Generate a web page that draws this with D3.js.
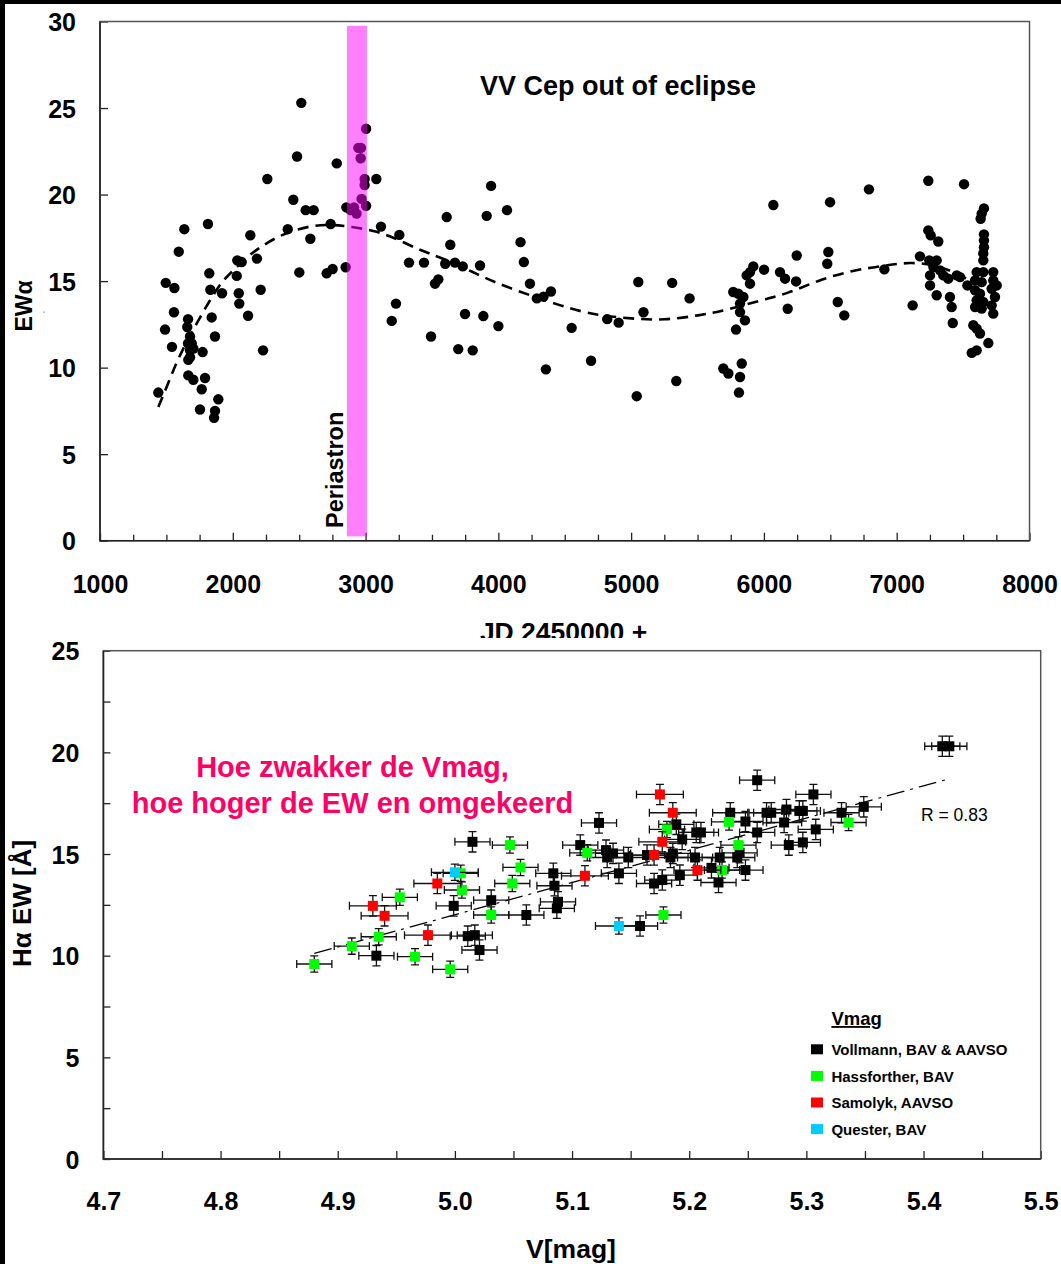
<!DOCTYPE html>
<html>
<head>
<meta charset="utf-8">
<script src="https://cdn.jsdelivr.net/npm/d3@7"></script>
<style>
  body { margin: 0; background: #fff; }
  svg { display: block; font-family: "Liberation Sans", Arial, sans-serif; }
</style>
</head>
<body>
<svg id="chart" width="1061" height="1264"></svg>
<script>
// ---- top panel: EW(H-alpha) vs time, VV Cep out of eclipse
var jd = [
  1439,1490,1495,1542,1557,1560,1593,1635,1657,1663, 1663,1665,1665,1678,1678,1678,1691,1703,1703,1753,
  1766,1773,1791,1813,1823,1831,1841,1859,1866,1866, 1891,1919,2030,2034,2045,2049,2067,2115,2132,2182,
  2210,2228,2260,
  2414,2456,2484,2501,2516,2549,2584,2609,2707,2737,2752,2783,2850,2855,
  2887,2913,2932,2945,2965,2963,2970,2993,2993,3004,3004,
  3081,3116,3197,3229,3254,3327,3440,3493,3523,3548, 3600,3611,3638,3673,3698,3732,3749,3807,3862,3887,
  3912,3945,4000,4065,4167,4192,4238,4290,4340,4358, 4396,4552,4698,4820,4906,5042,5054,5093,5309,5340,
  5440,
  5694,5732,5769,5790,5807,5812,5820,5820,5820,5833, 5845,5857,5870,5895,5895,5920,6001,6071,6121,6159,
  6179,6242,6247,6477,6485,6498,6556,6605,6791,6907,
  7120,7175,7238,7238,7245,7251,7251,7256,7276,7301, 7301,7313,7326,7351,7388,7401,7414,7422,7452,7477,
  7507,7532,
  7565,7577,7590,7590,7590,7602,7602,7602,7602,7627, 7627,7632,7640,7640,7640,7652,7652,7657,7657,7657,
  7657,7652,7652,7690,7715,7715,7727,7727,7727,7740, 7753
]
var ew = [
  8.56,12.2,14.9,11.2,13.2,14.6,16.7,18.0,12.35,12.8, 11.4,10.45,9.55,11.8,11.0,10.6,11.4,11.1,9.3,7.58,
  8.75,10.9,9.4,18.3,15.45,14.5,12.9,7.1,7.5,11.8, 8.17,14.3,15.3,16.2,14.3,13.7,16.1,13.0,17.65,16.3,
  14.5,11.0,20.9,
  18.0,19.7,22.2,15.5,25.3,19.1,17.45,19.1,15.45,18.3,15.7,21.8,15.8,19.26,
  19.1,19.26,18.9,22.7,22.7,22.1,19.75,20.9,20.55,19.35,23.8,
  20.9,18.15,12.7,13.7,17.67,16.07,16.07,11.8,14.85,15.1, 16.0,18.7,17.1,16.07,11.07,15.85,13.1,11.0,15.9,12.98,
  18.77,20.5,12.4,19.1,17.25,16.1,14.85,14.0,14.1,9.9, 14.4,12.3,10.4,12.8,12.6,8.35,14.95,13.2,14.9,9.23,
  14.0,
  9.95,9.66,14.37,12.2,14.27,8.56,9.46,13.7,13.21,10.24, 14.08,12.73,15.33,15.52,14.85,15.85,15.66,19.4,15.52,15.14,
  13.4,14.98,16.48,16.0,16.68,19.56,13.79,13.02,20.3,15.68,
  13.6,16.43,17.93,20.8,16.2,15.33,14.75,17.64,15.81,16.2, 14.18,17.29,15.62,15.33,15.14,14.08,13.5,12.58,15.33,15.23,
  20.6,14.75,
  10.85,12.45,15.04,14.47,13.5,15.52,12.25,13.89,11.0,11.97, 14.27,18.6,18.9,14.94,13.41,15.52,13.79,19.2,17.7,17.35,
  16.96,16.6,16.2,11.42,14.56,13.6,15.52,15.04,13.12,14.08, 14.75
]
// dashed fit curve
var fitJd = [1439,1514,1590,1740,1828,1916,1979,2105,2205,2331,2456,2606,2757,2908,3058,3209,3410,3561,3811,3988,
  4509,4748,5003,5250,5513,5717,5973,6177,6406,6661,6916,7095,7300,7452,7527,7620]
var fitEw = [7.73,9.08,10.6,12.73,13.9,14.95,15.43,16.39,16.96,17.54,17.93,18.22,18.27,18.12,17.93,17.54,16.77,16.39,15.52,14.85,
  13.45,13.02,12.83,12.73,13.02,13.31,13.89,14.27,15.04,15.62,15.9,16.1,15.95,15.43,15.14,14.8]
var periastron = [2860, 3010]
var jdTicks = [1000, 2000, 3000, 4000, 5000, 6000, 7000, 8000]
var ewTicks = [0, 5, 10, 15, 20, 25, 30]

// ---- bottom panel: H-alpha EW vs V magnitude
var vollmannV = [5.015,5.031,4.999,5.061,5.011,5.017,5.021,4.933,5.416,5.422, 5.258,5.306,5.123,5.235,5.248,5.266,5.270,5.283,5.281,5.294,
  5.297,5.330,5.349,5.308,5.297,5.285,5.258,5.189,5.206,5.210, 5.194,5.243,5.107,5.129,5.135,5.130,5.148,5.164,5.186,5.184,
  5.205,5.226,5.241,5.084,5.140,5.085,5.088,5.087,5.219,5.248, 5.192,5.170,5.177,5.225,5.158]
var vollmannEW = [15.60,12.73,12.45,12.00,10.96,11.01,10.28,10.00,20.30,20.30, 18.63,17.93,16.53,17.03,16.60,17.03,17.03,17.19,16.55,17.12,
  17.12,17.03,17.32,16.21,15.57,15.44,16.06,16.46,16.06,16.06, 15.72,15.06,15.44,15.19,15.03,14.83,14.83,14.95,15.03,14.83,
  14.83,14.83,14.83,14.05,14.05,13.44,12.65,12.33,14.32,14.21, 13.96,13.55,13.72,13.60,11.46]
var hassV = [5.047,5.005,5.056,5.006,5.049,4.953,5.031,4.935,4.912,4.880, 4.966,4.996,5.234,5.181,5.242,5.113,5.228,5.178,5.336]
var hassEW = [15.44,14.05,14.34,13.23,13.55,12.87,12.00,10.93,10.47,9.59, 9.95,9.33,16.58,16.21,15.44,15.06,14.21,12.00,16.55]
var samolykV = [4.985,4.930,4.940,4.977,5.111,5.170,5.175,5.177,5.186,5.207]
var samolykEW = [13.55,12.45,11.96,11.01,13.93,14.95,17.93,15.60,17.03,14.21]
var questerV = [5.000,5.140]
var questerEW = [14.10,11.46]
var seriesNames = ['Vollmann, BAV & AAVSO', 'Hassforther, BAV', 'Samolyk, AAVSO', 'Quester, BAV']
var seriesColors = ['#000000', '#00ff00', '#ff0000', '#00ccff']
var seriesXErr = [0.015, 0.015, 0.02, 0.02]
var seriesYErr = [0.5, 0.4, 0.5, 0.4]
var trendV = [4.88, 5.42]
var trendEW = [10.11, 18.67]
var vTicks = [4.7, 4.8, 4.9, 5.0, 5.1, 5.2, 5.3, 5.4, 5.5]
var ewTicks2 = [0, 5, 10, 15, 20, 25]

var svg = d3.select('#chart')
svg.append('rect').attr('width', 1061).attr('height', 1264).attr('fill', '#fff')

svg.append('defs').append('clipPath').attr('id', 'topClip')
  .append('rect').attr('x', 0).attr('y', 0).attr('width', 1061).attr('height', 638)

function styleAxis(g, size) {
  g.attr('font-size', null).attr('font-family', null)
  g.select('.domain').remove()
  g.selectAll('line').attr('stroke', '#222').attr('stroke-width', 1.3)
  g.selectAll('text')
    .attr('fill', '#000')
    .style('font-size', size + 'px')
    .style('font-weight', 'bold')
}

// =================== top panel ===================
var x1 = d3.scaleLinear().domain([1000, 8000]).range([100, 1029.5])
var y1 = d3.scaleLinear().domain([0, 30]).range([540.7, 21.5])
var panelA = svg.append('g').attr('clip-path', 'url(#topClip)')

// minor ticks every 250
panelA.append('g')
  .attr('transform', 'translate(0,540.7)')
  .call(d3.axisBottom(x1).tickValues(d3.range(1250, 8000, 250).filter(function(d) { return d % 1000 !== 0 }))
    .tickSize(-6).tickFormat(''))
  .call(function(g) { styleAxis(g, 25) })

panelA.append('g')
  .attr('transform', 'translate(0,540.7)')
  .call(d3.axisBottom(x1).tickValues(jdTicks).tickSize(-8).tickSizeOuter(0).tickPadding(34.5).tickFormat(d3.format('d')))
  .call(function(g) { styleAxis(g, 25) })

panelA.append('g')
  .attr('transform', 'translate(100,0)')
  .call(d3.axisLeft(y1).tickValues(ewTicks).tickSize(-8).tickSizeOuter(0).tickPadding(24))
  .call(function(g) { styleAxis(g, 25) })
  .selectAll('text').attr('dy', '0.36em')

// frame
panelA.append('rect')
  .attr('x', x1(1000)).attr('y', y1(30))
  .attr('width', x1(8000) - x1(1000)).attr('height', y1(0) - y1(30))
  .attr('fill', 'none').attr('stroke', '#555').attr('stroke-width', 1.5)
panelA.append('path')
  .attr('d', 'M' + x1(1000) + ',' + y1(30) + 'V' + y1(0) + 'H' + x1(8000))
  .attr('fill', 'none').attr('stroke', '#222').attr('stroke-width', 1.6)

// points
panelA.append('g').selectAll('circle')
  .data(jd)
  .enter()
  .append('circle')
  .attr('cx', function(d) { return x1(d) })
  .attr('cy', function(d, i) { return y1(ew[i]) })
  .attr('r', 5.2)
  .attr('fill', '#000')

// fit curve
var fitLine = d3.line()
  .x(function(d) { return x1(d) })
  .y(function(d, i) { return y1(fitEw[i]) })
  .curve(d3.curveBasis)
panelA.append('path')
  .attr('d', fitLine(fitJd))
  .attr('fill', 'none')
  .attr('stroke', '#000')
  .attr('stroke-width', 2.6)
  .attr('stroke-dasharray', '11,7')

// periastron band (semi transparent, over the points)
panelA.append('rect')
  .attr('x', x1(periastron[0]))
  .attr('y', y1(29.75))
  .attr('width', x1(periastron[1]) - x1(periastron[0]))
  .attr('height', y1(0.25) - y1(29.75))
  .attr('fill', '#ff00ff')
  .attr('fill-opacity', 0.5)

panelA.append('text')
  .attr('transform', 'translate(343,528) rotate(-90)')
  .style('font-size', '23.5px').style('font-weight', 'bold')
  .text('Periastron')

panelA.append('text')
  .attr('x', 480).attr('y', 95)
  .style('font-size', '27px').style('font-weight', 'bold')
  .text('VV Cep out of eclipse')

panelA.append('text')
  .attr('transform', 'translate(32,306) rotate(-90)')
  .attr('text-anchor', 'middle')
  .style('font-size', '23px').style('font-weight', 'bold')
  .text('EWα')
panelA.append('text')
  .attr('x', 43).attr('y', 317)
  .attr('fill', '#777')
  .style('font-size', '9px')
  .text('‘')

panelA.append('text')
  .attr('x', 563.5).attr('y', 640.5)
  .attr('text-anchor', 'middle')
  .style('font-size', '26.5px').style('font-weight', 'bold')
  .text('JD 2450000 +')

// =================== bottom panel ===================
var x2 = d3.scaleLinear().domain([4.7, 5.5]).range([103.4, 1040.7])
var y2 = d3.scaleLinear().domain([0, 25]).range([1159, 650.7])
var panelB = svg.append('g')

panelB.append('g')
  .attr('transform', 'translate(0,1159)')
  .call(d3.axisBottom(x2).tickValues(d3.range(4.75, 5.5, 0.1)).tickSize(-8).tickFormat(''))
  .call(function(g) { styleAxis(g, 25) })
panelB.append('g')
  .attr('transform', 'translate(0,1159)')
  .call(d3.axisBottom(x2).tickValues(vTicks).tickSize(-8).tickSizeOuter(0).tickPadding(33).tickFormat(d3.format('.1f')))
  .call(function(g) { styleAxis(g, 25) })

panelB.append('g')
  .attr('transform', 'translate(103.4,0)')
  .call(d3.axisLeft(y2).tickValues(d3.range(2.5, 25, 5)).tickSize(-7).tickFormat(''))
  .call(function(g) { styleAxis(g, 25) })
panelB.append('g')
  .attr('transform', 'translate(103.4,0)')
  .call(d3.axisLeft(y2).tickValues(ewTicks2).tickSize(-7).tickSizeOuter(0).tickPadding(24))
  .call(function(g) { styleAxis(g, 25) })
  .selectAll('text').attr('dy', '0.36em')

panelB.append('rect')
  .attr('x', x2(4.7)).attr('y', y2(25))
  .attr('width', x2(5.5) - x2(4.7)).attr('height', y2(0) - y2(25))
  .attr('fill', 'none').attr('stroke', '#555').attr('stroke-width', 1.5)
panelB.append('path')
  .attr('d', 'M' + x2(4.7) + ',' + y2(25) + 'V' + y2(0) + 'H' + x2(5.5))
  .attr('fill', 'none').attr('stroke', '#222').attr('stroke-width', 1.6)

// trend line
panelB.append('path')
  .attr('d', d3.line().x(function(d) { return x2(d) }).y(function(d, i) { return y2(trendEW[i]) })(trendV))
  .attr('fill', 'none')
  .attr('stroke', '#000')
  .attr('stroke-width', 1.2)
  .attr('stroke-dasharray', '18,6,3,6')

var seriesV = [vollmannV, hassV, samolykV, questerV]
var seriesEW = [vollmannEW, hassEW, samolykEW, questerEW]
var cap = 4

seriesV.forEach(function(vs, s) {
  var g = panelB.append('g')
  var pts = g.selectAll('g')
    .data(vs)
    .enter()
    .append('g')
  var xe = seriesXErr[s]
  var ye = seriesYErr[s]
  var eb = pts.append('path')
    .attr('d', function(d, i) {
      var cx = x2(d), cy = y2(seriesEW[s][i])
      var xl = x2(d - xe), xr = x2(d + xe)
      var yt = y2(seriesEW[s][i] + ye), yb = y2(seriesEW[s][i] - ye)
      return 'M' + xl + ',' + cy + 'H' + xr +
        'M' + xl + ',' + (cy - cap) + 'V' + (cy + cap) +
        'M' + xr + ',' + (cy - cap) + 'V' + (cy + cap) +
        'M' + cx + ',' + yt + 'V' + yb +
        'M' + (cx - cap) + ',' + yt + 'H' + (cx + cap) +
        'M' + (cx - cap) + ',' + yb + 'H' + (cx + cap)
    })
    .attr('fill', 'none')
    .attr('stroke', '#111')
    .attr('stroke-width', 1.3)
  pts.append('rect')
    .attr('x', function(d) { return x2(d) - 5 })
    .attr('y', function(d, i) { return y2(seriesEW[s][i]) - 5 })
    .attr('width', 10)
    .attr('height', 10)
    .attr('fill', seriesColors[s])
})

// annotation
var note = panelB.append('text')
  .attr('text-anchor', 'middle')
  .attr('fill', '#ff0066')
  .style('font-size', '29px').style('font-weight', 'bold')
note.append('tspan').attr('x', 352.5).attr('y', 777).text('Hoe zwakker de Vmag,')
note.append('tspan').attr('x', 352.5).attr('y', 812.5).text('hoe hoger de EW en omgekeerd')

panelB.append('text')
  .attr('x', 921).attr('y', 821)
  .style('font-size', '17.5px')
  .text('R = 0.83')

// legend
var legend = panelB.append('g')
legend.append('text')
  .attr('x', 831.4).attr('y', 1025)
  .style('font-size', '18.5px').style('font-weight', 'bold')
  .style('text-decoration', 'underline')
  .text('Vmag')
var rows = legend.selectAll('g.row')
  .data(seriesNames)
  .enter()
  .append('g')
  .attr('class', 'row')
  .attr('transform', function(d, i) { return 'translate(0,' + (1049.3 + i * 26.6) + ')' })
rows.append('rect')
  .attr('x', 811).attr('y', -5)
  .attr('width', 12).attr('height', 10)
  .attr('fill', function(d, i) { return seriesColors[i] })
rows.append('text')
  .attr('x', 831.4).attr('y', 5.6)
  .style('font-size', '15px').style('font-weight', 'bold')
  .text(function(d) { return d })

panelB.append('text')
  .attr('transform', 'translate(31,903.5) rotate(-90)')
  .attr('text-anchor', 'middle')
  .style('font-size', '26px').style('font-weight', 'bold')
  .text('Hα EW [Å]')

panelB.append('text')
  .attr('x', 571).attr('y', 1258)
  .attr('text-anchor', 'middle')
  .style('font-size', '26.5px').style('font-weight', 'bold')
  .text('V[mag]')

// black border strips, top and left
svg.append('rect').attr('x', 0).attr('y', 0).attr('width', 1061).attr('height', 4).attr('fill', '#000')
svg.append('rect').attr('x', 0).attr('y', 0).attr('width', 5).attr('height', 1264).attr('fill', '#000')
</script>
</body>
</html>
